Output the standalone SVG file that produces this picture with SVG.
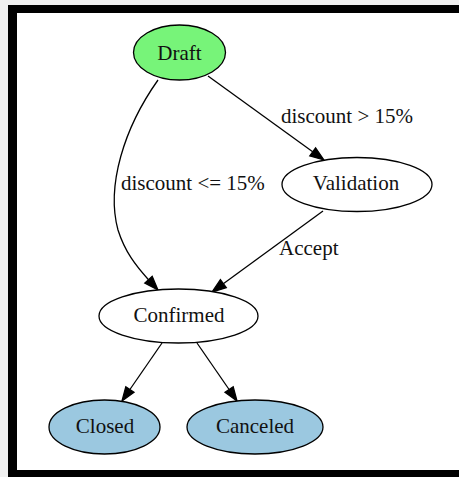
<svg xmlns="http://www.w3.org/2000/svg" width="459" height="477" viewBox="0 0 459 477">
  <style>
    .node ellipse { stroke: #000; stroke-width: 1.3; }
    .node text { font-family: "Liberation Serif", "Times New Roman", serif; font-size: 21px; text-anchor: middle; fill: #111; }
    .edge path { fill: none; stroke: #000; stroke-width: 1.3; }
    .edge polygon { fill: #000; stroke: #000; stroke-width: 1.3; }
    .label { font-family: "Liberation Serif", "Times New Roman", serif; font-size: 21px; fill: #111; }
  </style>

  <!-- page backdrop and frame -->
  <rect x="0" y="0" width="459" height="477" fill="#f0f0f0"/>
  <rect x="8" y="5" width="451" height="472" fill="#000"/>
  <rect x="17" y="13" width="442" height="457" fill="#fff"/>

  <!-- connectors -->
  <g id="edges">
    <g class="edge" id="draft-validation">
      <path d="M208,76 L312.7,151.8"/>
      <polygon points="324,160 309.8,155.9 315.6,147.8"/>
      <text class="label" x="281" y="123">discount &gt; 15%</text>
    </g>
    <g class="edge" id="draft-confirmed">
      <path d="M158,80 C124,128 106,186 118,230 C125,252 136,266 148.5,279.7"/>
      <polygon points="158,290 144.8,283.1 152.2,276.3"/>
      <text class="label" x="121" y="190">discount &lt;= 15%</text>
    </g>
    <g class="edge" id="validation-confirmed">
      <path d="M323,211 L223.3,283.7"/>
      <polygon points="212,292 220.4,279.7 226.3,287.7"/>
      <text class="label" x="279" y="255">Accept</text>
    </g>
    <g class="edge" id="confirmed-closed">
      <path d="M162,343 L129.9,389.5"/>
      <polygon points="122,401 134,392.3 125.8,386.7"/>
    </g>
    <g class="edge" id="confirmed-canceled">
      <path d="M197,343 L229.1,389.5"/>
      <polygon points="237,401 225,392.3 233.2,386.7"/>
    </g>
  </g>

  <!-- states -->
  <g class="node" id="draft">
    <ellipse cx="179.5" cy="52.5" rx="46" ry="27.5" fill="#77f479"/>
    <text x="179.5" y="60">Draft</text>
  </g>
  <g class="node" id="validation">
    <ellipse cx="357" cy="184.5" rx="75" ry="27" fill="#fff"/>
    <text x="356" y="190">Validation</text>
  </g>
  <g class="node" id="confirmed">
    <ellipse cx="178.5" cy="316" rx="79.5" ry="27" fill="#fff"/>
    <text x="179" y="322">Confirmed</text>
  </g>
  <g class="node" id="closed">
    <ellipse cx="104.5" cy="427" rx="55.5" ry="27" fill="#9bc8e0"/>
    <text x="105" y="433">Closed</text>
  </g>
  <g class="node" id="canceled">
    <ellipse cx="255" cy="427" rx="68" ry="27" fill="#9bc8e0"/>
    <text x="255" y="433">Canceled</text>
  </g>
</svg>
